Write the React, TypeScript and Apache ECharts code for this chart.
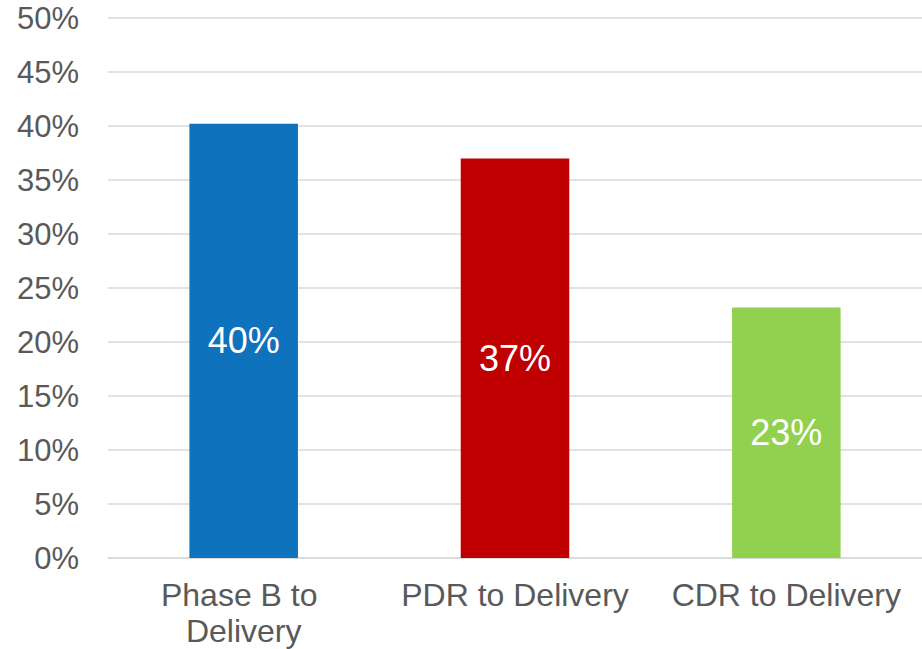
import React, { useEffect, useRef } from "react";
import * as echarts from "echarts";

// Share of schedule growth by milestone window (percent)
const categories = ["Phase B to Delivery", "PDR to Delivery", "CDR to Delivery"];
const values = [40.2, 37.0, 23.2];
const barColors = ["#0F72BC", "#C00000", "#92D050"];

const yMin = 0;
const yMax = 50;
const yStep = 5;

const FONT = "'Liberation Sans', Arial, sans-serif";

export default function App() {
  const ref = useRef<HTMLDivElement>(null);

  useEffect(() => {
    if (!ref.current) return;
    const chart = echarts.init(ref.current, null, { renderer: "svg" });
    chart.setOption({
      animation: false,
      backgroundColor: "#ffffff",
      grid: { left: 108, right: 0, top: 18, height: 542, containLabel: false },
      xAxis: {
        type: "category",
        data: categories,
        axisLine: { show: true, lineStyle: { color: "#D9D9D9", width: 1.5 } },
        axisTick: { show: false },
        axisLabel: {
          interval: 0,
          color: "#595959",
          fontFamily: FONT,
          fontSize: 32,
          lineHeight: 36,
          margin: 19,
          width: 262,
          overflow: "break",
        },
      },
      yAxis: {
        type: "value",
        min: yMin,
        max: yMax,
        interval: yStep,
        axisLine: { show: false },
        axisTick: { show: false },
        splitLine: { show: true, lineStyle: { color: "#D9D9D9", width: 1.5 } },
        axisLabel: {
          color: "#595959",
          fontFamily: FONT,
          fontSize: 31,
          margin: 29,
          formatter: (v: number) => `${v}%`,
        },
      },
      series: [
        {
          type: "bar",
          barWidth: "40%",
          data: values.map((v, i) => ({
            value: v,
            itemStyle: { color: barColors[i] },
          })),
          label: {
            show: true,
            position: "inside",
            color: "#ffffff",
            fontFamily: FONT,
            fontSize: 36,
            formatter: (p: any) => `${Math.round(p.value)}%`,
          },
        },
      ],
    });
    return () => chart.dispose();
  }, []);

  return (
    <div
      ref={ref}
      style={{ position: "fixed", left: 0, top: 0, width: 922, height: 649 }}
    />
  );
}
